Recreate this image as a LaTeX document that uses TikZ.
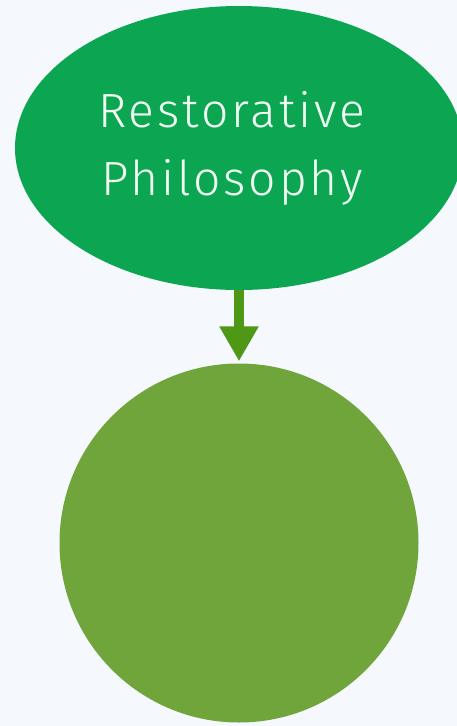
\documentclass[tikz,border=0pt]{standalone}
\usepackage{fontspec}
\setmainfont{Fira Sans}[UprightFont=* Light, LetterSpace=6]
\usetikzlibrary{arrows.meta,shapes.geometric}
\definecolor{bgc}{RGB}{245,248,252}
\definecolor{ellc}{RGB}{12,166,82}
\definecolor{circc}{RGB}{112,165,60}
\definecolor{arrc}{RGB}{78,152,22}
\definecolor{txtc}{RGB}{240,255,242}
\tikzset{
  topic/.style={ellipse, fill=ellc, draw=none, inner sep=0pt, minimum width=448pt, minimum height=284pt,
    text=txtc, font=\fontsize{48}{68}\selectfont, align=center},
  blob/.style={circle, fill=circc, draw=none, inner sep=0pt, minimum size=359pt},
  conn/.style={draw=arrc, line width=10pt, -{Triangle[width=37pt,length=35pt]}, shorten >=2pt}
}
\begin{document}
\begin{tikzpicture}[x=1pt,y=-1pt]
\fill[bgc] (0,0) rectangle (457,726);
\useasboundingbox (0,0) rectangle (457,726);
\node[topic] (phil) at (239,148) {Restorative\hspace*{14pt}\\Philosophy\hspace*{14pt}};
\node[blob] (c) at (239,543) {};
\draw[conn] (phil.south) -- (c.north);
\end{tikzpicture}
\end{document}
